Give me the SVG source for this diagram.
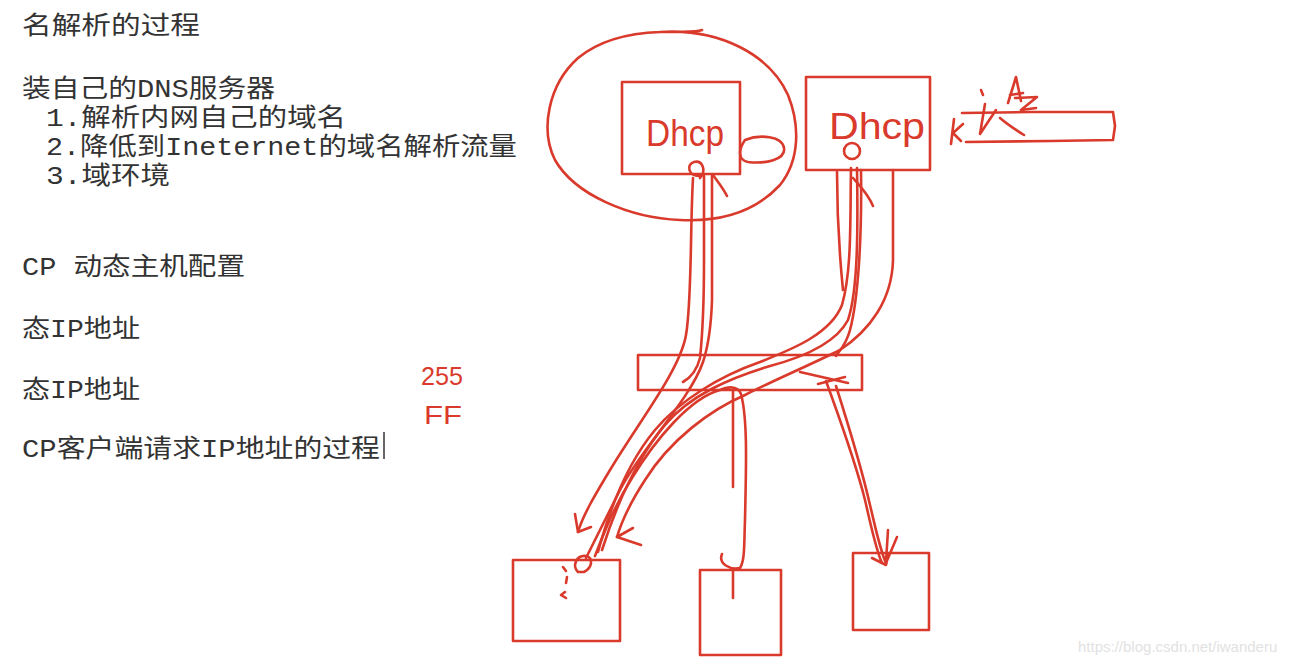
<svg xmlns="http://www.w3.org/2000/svg" width="1294" height="668" viewBox="0 0 1294 668">
<style>
.t{font-family:"Liberation Mono","Noto Sans CJK SC",monospace;font-size:25px;fill:#333}
.r{fill:none;stroke:#d93a2c;stroke-width:2.6;stroke-linecap:round;stroke-linejoin:round}
.rt{font-family:"Liberation Sans","DejaVu Sans",sans-serif;fill:#d93a2c}
</style>
<rect width="1294" height="668" fill="#fff"/>
<g id="notes">
<text class="t" x="22" y="34" textLength="178" lengthAdjust="spacingAndGlyphs">名解析的过程</text>
<text class="t" x="22" y="97" textLength="253" lengthAdjust="spacingAndGlyphs">装自己的DNS服务器</text>
<text class="t" x="46" y="126" textLength="300" lengthAdjust="spacingAndGlyphs">1.解析内网自己的域名</text>
<text class="t" x="46" y="155" textLength="471" lengthAdjust="spacingAndGlyphs">2.降低到Ineternet的域名解析流量</text>
<text class="t" x="46" y="184" textLength="124" lengthAdjust="spacingAndGlyphs">3.域环境</text>
<text class="t" x="22" y="275" textLength="223" lengthAdjust="spacingAndGlyphs">CP 动态主机配置</text>
<text class="t" x="22" y="337" textLength="118" lengthAdjust="spacingAndGlyphs">态IP地址</text>
<text class="t" x="22" y="398" textLength="118" lengthAdjust="spacingAndGlyphs">态IP地址</text>
<text class="t" x="22" y="457" textLength="358" lengthAdjust="spacingAndGlyphs">CP客户端请求IP地址的过程</text>
<line x1="384" y1="432" x2="384" y2="459" stroke="#333" stroke-width="1.5"/>
</g>
<g id="marks">
<text class="rt" x="421" y="385" font-size="26" textLength="42" lengthAdjust="spacingAndGlyphs">255</text>
<text class="rt" x="424" y="424" font-size="26" textLength="38" lengthAdjust="spacingAndGlyphs">FF</text>
</g>
<g id="dhcp1">
<path class="r" d="M 660 32 C 720 28, 770 55, 788 95 C 800 125, 800 160, 780 185 C 755 212, 720 222, 680 220 C 630 218, 575 195, 555 160 C 540 130, 548 85, 578 58 C 600 40, 630 33, 660 32 C 680 31, 695 33, 702 30"/>
<rect class="r" x="622" y="82" width="118" height="92"/>
<text class="rt" x="646" y="146" font-size="36" textLength="78" lengthAdjust="spacingAndGlyphs">Dhcp</text>
<path class="r" d="M 745 140 C 760 134, 782 136, 784 148 C 786 160, 765 164, 748 162 C 738 160, 738 150, 745 140"/>
<path class="r" d="M 700 176 C 688 177, 686 164, 694 162 C 702 160, 707 170, 700 178"/>
</g>
<g id="dhcp2">
<rect class="r" x="806" y="77" width="124" height="93"/>
<text class="rt" x="829" y="139" font-size="36" textLength="96" lengthAdjust="spacingAndGlyphs">Dhcp</text>
<circle class="r" cx="852" cy="151" r="8"/>
</g>
<g id="note2">
<path class="r" d="M 962 113 L 1030 112 L 1113 112 L 1115 126 L 1113 140 L 1050 141 L 966 142"/>
<path class="r" d="M 954 119 L 951 144 M 963 124 L 953 133 L 961 141"/>
<path class="r" d="M 981 90 L 983 95 M 985 104 L 980 134 L 996 110"/>
<path class="r" d="M 1008 103 L 1016 77 L 1021 101 M 1010 95 L 1023 93"/>
<path class="r" d="M 1015 98 L 1037 97 L 1021 110 L 1036 108"/>
<path class="r" d="M 1000 118 C 1008 125, 1016 130, 1024 135"/>
</g>
<g id="switch">
<rect class="r" x="638" y="355" width="224" height="35"/>
</g>
<g id="host1">
<rect class="r" x="513" y="560" width="107" height="81"/>
<path class="r" d="M 578 572 C 572 566, 576 555, 586 556 C 594 558, 592 568, 584 572 L 578 572"/>
<path class="r" d="M 563 567 L 566 571 M 567 577 L 566 583 M 565 592 L 561 595 L 566 598"/>
</g>
<g id="host2">
<rect class="r" x="700" y="570" width="81" height="85"/>
</g>
<g id="host3">
<rect class="r" x="853" y="553" width="76" height="77"/>
</g>
<g id="connectors">
<path class="r" d="M 693 178 C 690 230, 692 300, 686 335 C 680 370, 640 420, 610 470 C 595 495, 583 515, 578 532"/>
<path class="r" d="M 575 514 L 578 532 L 591 527"/>
<path class="r" d="M 704 176 L 704 260 C 704 300, 703 330, 700 358 C 697 370, 690 378, 683 382"/>
<path class="r" d="M 712 176 L 712 300 C 711 330, 707 350, 703 362 C 690 400, 640 450, 620 490 C 605 520, 595 540, 586 558"/>
<path class="r" d="M 713 175 C 718 182, 723 188, 727 196"/>
<path class="r" d="M 595 556 C 605 530, 615 505, 632 478 C 655 440, 690 398, 720 390 C 728 386, 738 386, 741 394 C 748 420, 746 470, 745 520 C 744 545, 745 560, 740 568 C 730 570, 718 564, 722 554"/>
<path class="r" d="M 733 390 L 733 487 M 733 570 L 733 598"/>
<path class="r" d="M 851 168 C 850 220, 852 270, 842 305 C 830 335, 790 350, 760 362 C 720 376, 680 400, 655 430 C 630 460, 612 500, 598 552"/>
<path class="r" d="M 857 168 C 858 230, 858 290, 848 320 C 835 345, 800 358, 770 366 C 730 378, 690 395, 665 425 C 640 455, 618 500, 602 550"/>
<path class="r" d="M 837 172 C 837 220, 840 260, 843 290"/>
<path class="r" d="M 853 178 C 860 186, 868 194, 873 206"/>
<path class="r" d="M 861 170 C 862 240, 858 300, 850 330 C 846 345, 840 350, 836 356"/>
<path class="r" d="M 893 170 L 893 260 C 892 300, 870 330, 840 350 C 810 365, 770 382, 745 395 C 710 410, 670 440, 645 480 C 632 500, 622 520, 617 537"/>
<path class="r" d="M 633 528 L 617 537 L 641 545"/>
<path class="r" d="M 800 372 L 848 383 M 818 384 L 845 377"/>
<path class="r" d="M 826 381 C 840 420, 855 460, 865 500 C 872 530, 876 550, 882 563"/>
<path class="r" d="M 836 386 C 850 430, 862 470, 870 505 C 876 530, 880 550, 886 563"/>
<path class="r" d="M 872 558 L 886 565 L 888 555 M 888 530 L 886 562 M 897 537 L 886 563"/>
</g>
<text x="1078" y="652" font-family="Liberation Sans, sans-serif" font-size="15" fill="#e2e2e2">https://blog.csdn.net/iwanderu</text>
</svg>
